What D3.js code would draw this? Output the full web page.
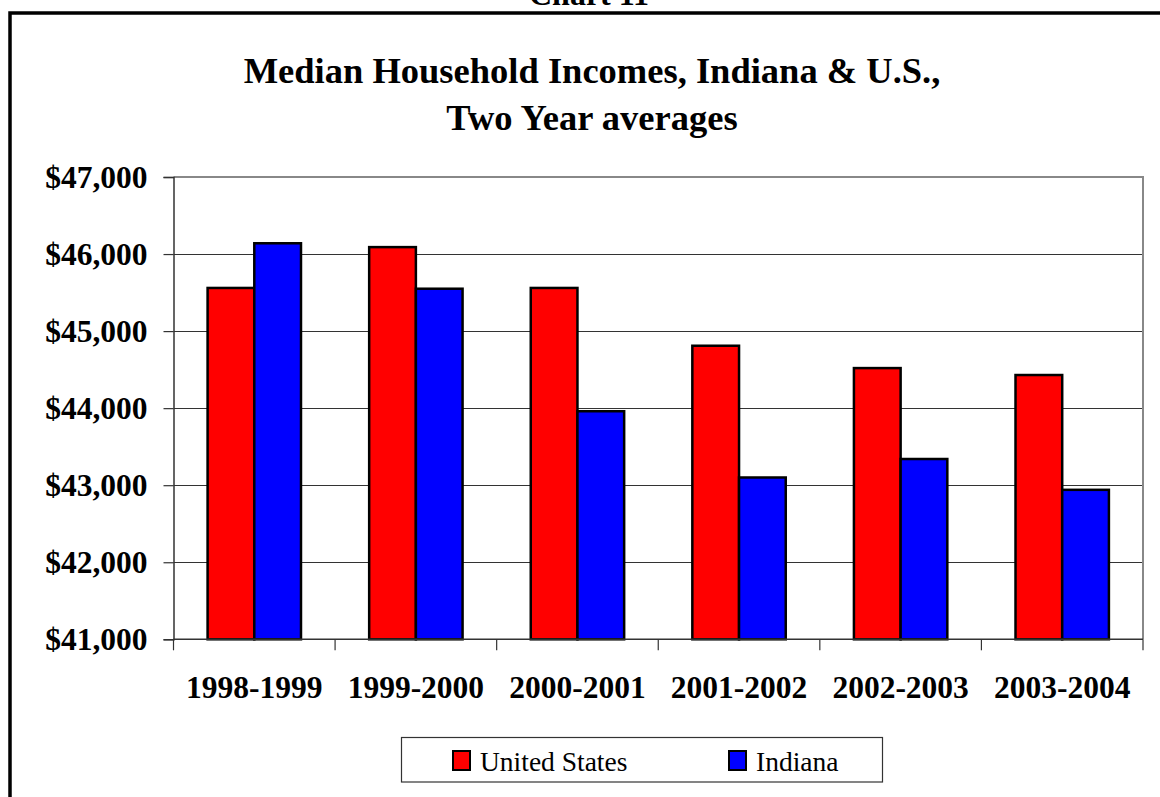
<!DOCTYPE html>
<html>
<head>
<meta charset="utf-8">
<script src="https://cdn.jsdelivr.net/npm/d3@7/dist/d3.min.js"></script>
<style>
  html, body { margin: 0; padding: 0; background: #fff; }
  svg { display: block; }
</style>
</head>
<body>
<script>
// Two-year average median household income, by period
const periods = ["1998-1999", "1999-2000", "2000-2001", "2001-2002", "2002-2003", "2003-2004"];
const seriesNames = ["United States", "Indiana"];
const unitedStates = [45560, 46090, 45560, 44810, 44520, 44430];
const indiana = [46140, 45550, 43960, 43100, 43340, 42940];
const yTicks = [41000, 42000, 43000, 44000, 45000, 46000, 47000];
const seriesColors = ["#ff0000", "#0000ff"];

const W = 1160, H = 797;
const font = "'Liberation Serif', 'Times New Roman', serif";

const svg = d3.select("body").append("svg")
  .attr("width", W).attr("height", H)
  .style("font-family", font);

// page heading above the chart frame
svg.append("text")
  .attr("x", 589).attr("y", 5)
  .attr("text-anchor", "middle")
  .attr("font-size", 32).attr("font-weight", "bold")
  .text("Chart 11");

// chart frame
svg.append("path")
  .attr("d", `M10,${H + 5} V13 H${W + 5}`)
  .attr("fill", "none").attr("stroke", "#000").attr("stroke-width", 3.5);

// title
const title = svg.append("text")
  .attr("text-anchor", "middle")
  .attr("font-size", 36.5).attr("font-weight", "bold");
title.append("tspan").attr("x", 592).attr("y", 83).text("Median Household Incomes, Indiana & U.S.,");
title.append("tspan").attr("x", 592).attr("y", 130).text("Two Year averages");

const plot = { left: 173.5, right: 1143, top: 177, bottom: 639.3 };

const x0 = d3.scaleBand().domain(periods).range([plot.left, plot.right]).padding(0);
const x1 = d3.scaleBand().domain(seriesNames).range([0, x0.bandwidth()])
  .paddingInner(0).paddingOuter(0.73);
const y = d3.scaleLinear().domain([41000, 47000]).range([plot.bottom, plot.top]);

// gridlines
svg.append("g")
  .selectAll("line")
  .data(yTicks.slice(1, -1))
  .join("line")
  .attr("x1", plot.left).attr("x2", plot.right)
  .attr("y1", d => Math.round(y(d)) + 0.5).attr("y2", d => Math.round(y(d)) + 0.5)
  .attr("stroke", "#333").attr("stroke-width", 1.2);

// plot area border (top and right)
svg.append("path")
  .attr("d", `M${plot.left},${y(47000)} H${plot.right} V${plot.bottom}`)
  .attr("fill", "none").attr("stroke", "#888").attr("stroke-width", 2);

// bars
const rows = periods.map((p, i) => ({ period: p, values: [unitedStates[i], indiana[i]] }));
svg.append("g")
  .selectAll("g")
  .data(rows)
  .join("g")
  .attr("transform", d => `translate(${x0(d.period)},0)`)
  .selectAll("rect")
  .data(d => d.values.map((v, j) => ({ name: seriesNames[j], value: v, color: seriesColors[j] })))
  .join("rect")
  .attr("x", d => x1(d.name))
  .attr("width", x1.bandwidth())
  .attr("y", d => y(d.value))
  .attr("height", d => y(41000) - y(d.value))
  .attr("fill", d => d.color)
  .attr("stroke", "#000").attr("stroke-width", 2.5);

// y axis
const fmt = d3.format("$,");
const yAxis = svg.append("g")
  .attr("transform", `translate(${plot.left},0)`)
  .call(d3.axisLeft(y).tickValues(yTicks).tickFormat(fmt).tickSize(10).tickPadding(16));
yAxis.select(".domain").attr("stroke", "#333").attr("stroke-width", 1.5);
yAxis.selectAll(".tick line").attr("stroke", "#333").attr("stroke-width", 1.2);
yAxis.selectAll(".tick text")
  .attr("font-family", font).attr("font-size", 31.5).attr("font-weight", "bold").attr("fill", "#000");

// x axis with ticks on category boundaries
const xAxisG = svg.append("g").attr("transform", `translate(0,${plot.bottom})`);
xAxisG.append("line")
  .attr("x1", plot.left).attr("x2", plot.right)
  .attr("stroke", "#333").attr("stroke-width", 1.5);
const boundaries = periods.map(p => x0(p)).concat([x0(periods[periods.length - 1]) + x0.bandwidth()]);
xAxisG.selectAll("line.tk")
  .data(boundaries)
  .join("line").attr("class", "tk")
  .attr("x1", d => d).attr("x2", d => d)
  .attr("y1", 0).attr("y2", 11)
  .attr("stroke", "#333").attr("stroke-width", 1.2);
xAxisG.selectAll("text")
  .data(periods)
  .join("text")
  .attr("x", d => x0(d) + x0.bandwidth() / 2)
  .attr("y", 59)
  .attr("text-anchor", "middle")
  .attr("font-size", 31.5).attr("font-weight", "bold")
  .text(d => d);

// legend
const legend = svg.append("g");
legend.append("rect")
  .attr("x", 401.5).attr("y", 737.5).attr("width", 481).attr("height", 44.5)
  .attr("fill", "#fff").attr("stroke", "#333").attr("stroke-width", 1.2);
const legendX = [453, 729];
const items = legend.selectAll("g.item")
  .data(seriesNames)
  .join("g").attr("class", "item")
  .attr("transform", (d, i) => `translate(${legendX[i]},751)`);
items.append("rect")
  .attr("width", 17).attr("height", 19)
  .attr("fill", (d, i) => seriesColors[i])
  .attr("stroke", "#000").attr("stroke-width", 2);
items.append("text")
  .attr("x", 27).attr("y", 20)
  .attr("font-size", 27.5)
  .text(d => d);
</script>
</body>
</html>
